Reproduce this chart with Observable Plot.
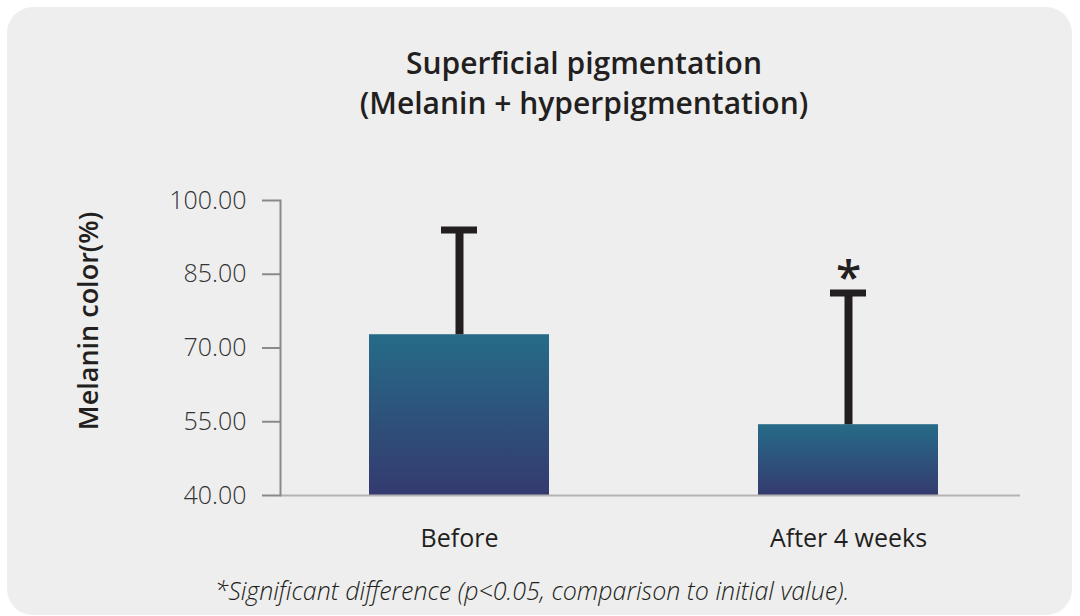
<!DOCTYPE html>
<html>
<head>
<meta charset="utf-8">
<script src="https://cdn.jsdelivr.net/npm/d3@7"></script>
<script src="https://cdn.jsdelivr.net/npm/@observablehq/plot@0.6"></script>
<style>
  html, body { margin: 0; padding: 0; background: #ffffff; width: 1080px; height: 616px; overflow: hidden; }
  body { position: relative; font-family: "Open Sans", Lato, sans-serif; }
  #card { position: absolute; left: 7px; top: 7px; width: 1065px; height: 608px; background: #eeeeee; border-radius: 26px; }
  #title { position: absolute; left: 0; width: 1168px; top: 43px; text-align: center; font-size: 30px; line-height: 40px; font-weight: 600; color: #231f20; }
  #ylabel { position: absolute; left: -62px; width: 300px; top: 306px; height: 30px; line-height: 30px; text-align: center; font-size: 27px; font-weight: 600; color: #231f20; transform: rotate(-90deg); transform-origin: 150px 15px; white-space: nowrap; }
  #chart { position: absolute; left: 0; top: 140px; }
  #caption { position: absolute; left: 0; width: 1064px; top: 578px; text-align: center; font-size: 25px; line-height: 25px; font-style: italic; font-weight: 300; color: #231f20; }
</style>
</head>
<body>
<div id="card"></div>
<div id="title">Superficial pigmentation<br>(Melanin + hyperpigmentation)</div>
<div id="chart"></div>
<div id="ylabel"></div>
<div id="caption">*Significant difference (p&lt;0.05, comparison to initial value).</div>
<script>
// Data
const categories = ["Before", "After 4 weeks"];
const means = [72.7, 54.4];
const upper = [94.0, 81.2];
const significant = [false, true];
const yTicks = [40, 55, 70, 85, 100];
const yLabel = "Melanin color(%)";

document.getElementById("ylabel").textContent = yLabel;

const data = categories.map((c, i) => ({cat: c, mean: means[i], up: upper[i], sig: significant[i]}));

const plot = Plot.plot({
  width: 1080,
  height: 430,
  marginTop: 60,
  marginBottom: 75,
  marginLeft: 280,
  marginRight: 60,
  style: {background: "transparent", fontFamily: "'Open Sans', Lato, sans-serif", color: "#231f20", overflow: "visible"},
  x: {domain: categories, paddingInner: 0.5385, paddingOuter: 0.218, align: 0.518, label: null},
  y: {domain: [40, 100], label: null},
  marks: [
    Plot.barY(data, {x: "cat", y1: 40, y2: "mean", fill: "url(#barGrad)"}),
    Plot.ruleX(data, {x: "cat", y1: "mean", y2: "up", stroke: "#231f20", strokeWidth: 8}),
    Plot.tickY(data, {x: "cat", y: "up", stroke: "#231f20", strokeWidth: 7, insetLeft: 72, insetRight: 72}),
    Plot.text(data.filter(d => d.sig), {x: "cat", y: "up", text: () => "*", dy: -15, fontSize: 46, fontWeight: 600, fill: "#231f20"}),
    Plot.ruleY([40], {stroke: "#b3b3b3", strokeWidth: 2}),
    Plot.frame({anchor: "left", stroke: "#8a8a8a", strokeWidth: 2}),
    Plot.axisY({ticks: yTicks, tickFormat: d3.format(".2f"), tickSize: 18, tickPadding: 16, fontSize: 25, fontWeight: 300, stroke: "#8a8a8a", strokeWidth: 2, label: null, fill: "#333333"}),
    Plot.axisX({tickSize: 0, tickPadding: 34, fontSize: 25, fontWeight: 500, label: null, fill: "#231f20"})
  ]
});

const svg = d3.select(plot);
const defs = svg.insert("defs", ":first-child");
const grad = defs.append("linearGradient").attr("id", "barGrad").attr("x1", 0).attr("y1", 0).attr("x2", 0).attr("y2", 1);
grad.append("stop").attr("offset", "0%").attr("stop-color", "#266b88");
grad.append("stop").attr("offset", "100%").attr("stop-color", "#343a6f");

document.getElementById("chart").appendChild(plot);
</script>
</body>
</html>
